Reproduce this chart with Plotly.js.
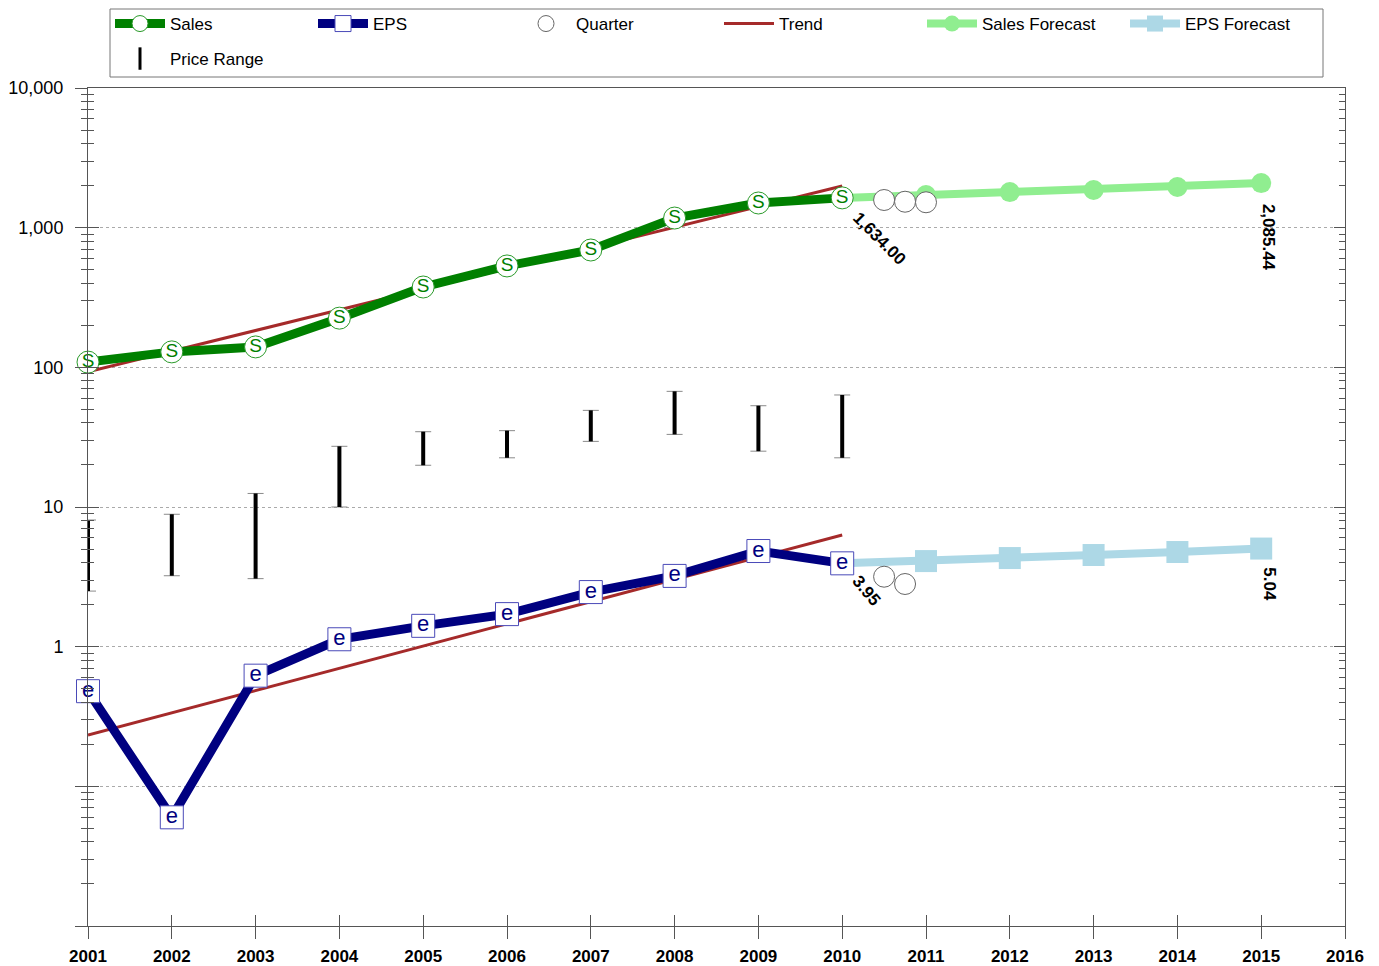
<!DOCTYPE html>
<html><head><meta charset="utf-8">
<script src="https://cdn.plot.ly/plotly-3.0.1.min.js"></script>
<style>html,body{margin:0;padding:0;background:#fff;} #chart{width:1379px;height:966px;}</style>
</head><body><div id="chart"></div>
<script>
// ---------- data ----------
const years = [2001, 2002, 2003, 2004, 2005, 2006, 2007, 2008, 2009, 2010];
const sales = [109, 129, 140, 225, 376, 532, 692, 1172, 1502, 1634.00];
const eps = [0.48, 0.060, 0.62, 1.13, 1.41, 1.71, 2.46, 3.21, 4.84, 3.95];
const forecastYears = [2010, 2011, 2012, 2013, 2014, 2015];
const salesForecast = [1634.00, 1714, 1798, 1862, 1955, 2085.44];
const epsForecast = [3.95, 4.10, 4.31, 4.53, 4.76, 5.04];
const quarterSalesX = [2010.5, 2010.75, 2011];
const quarterSales = [1578, 1534, 1520];
const quarterEpsX = [2010.5, 2010.75];
const quarterEps = [3.17, 2.81];
const trendYears = [2001, 2010];
const trendSales = [93, 1990];
const trendEps = [0.233, 6.31];
const priceLow = [2.50, 3.22, 3.07, 10.0, 19.9, 22.5, 29.5, 33.1, 25.1, 22.5];
const priceHigh = [8.07, 8.87, 12.5, 27.2, 34.6, 35.2, 49.2, 67.3, 53.1, 63.4];
const xTickVals = [2001, 2002, 2003, 2004, 2005, 2006, 2007, 2008, 2009, 2010, 2011, 2012, 2013, 2014, 2015, 2016];
const yTickVals = [0.01, 0.1, 1, 10, 100, 1000, 10000];
const yTickText = ['', '', '1', '10', '100', '1,000', '10,000'];

// ---------- geometry helpers ----------
const W = 1379, H = 966, ML = 88, MR = 34, MT = 88, MB = 40;
const PW = W - ML - MR, PH = H - MT - MB;
const px2x = p => (p - ML) / PW;
const py2y = p => (H - MB - p) / PH;
const FONT = 'Liberation Sans, Arial, sans-serif';

const minorVals = [];
for (let d = -2; d <= 3; d++) for (let k = 2; k <= 9; k++) minorVals.push(k * Math.pow(10, d));

// price range segments
const prX = [], prY = [];
years.forEach((yr, i) => { prX.push(yr, yr, null); prY.push(priceLow[i], priceHigh[i], null); });

const fmt = v => v.toLocaleString('en-US', {minimumFractionDigits: 2, maximumFractionDigits: 2});

const traces = [
  { // caps
    x: years, y: priceLow, type: 'scatter', mode: 'markers',
    marker: {size: 1, opacity: 0},
    error_y: {type: 'data', symmetric: false,
      array: priceHigh.map((h, i) => h - priceLow[i]), arrayminus: priceLow.map(() => 0),
      color: '#8a8a8a', thickness: 1, width: 8},
    showlegend: false, hoverinfo: 'skip'
  },
  {
    x: prX, y: prY, type: 'scatter', mode: 'lines',
    line: {color: '#000', width: 4}, showlegend: false, hoverinfo: 'skip'
  },
  {
    x: [null], y: [null], type: 'scatter', mode: 'markers', name: 'Price Range',
    legend: 'legend2',
    marker: {symbol: 'line-ns-open', size: 16, color: '#000', line: {color: '#000', width: 3}}
  },
  {
    x: trendYears, y: trendSales, type: 'scatter', mode: 'lines', name: 'Trend',
    legendgroup: 'trend', legendrank: 4, line: {color: '#A52A2A', width: 3}
  },
  {
    x: trendYears, y: trendEps, type: 'scatter', mode: 'lines', name: 'Trend',
    legendgroup: 'trend', showlegend: false, line: {color: '#A52A2A', width: 3}
  },
  {
    x: forecastYears, y: salesForecast, type: 'scatter', mode: 'lines+markers', name: 'Sales Forecast',
    legendrank: 5, line: {color: '#90EE90', width: 8},
    marker: {symbol: 'circle', size: 20, color: '#90EE90'}
  },
  {
    x: forecastYears, y: epsForecast, type: 'scatter', mode: 'lines+markers', name: 'EPS Forecast',
    legendrank: 6, line: {color: '#ADD8E6', width: 8},
    marker: {symbol: 'square', size: 22, color: '#ADD8E6'}
  },
  {
    x: years, y: sales, type: 'scatter', mode: 'lines+markers', name: 'Sales', legendrank: 1,
    cliponaxis: false,
    line: {color: '#008000', width: 9},
    marker: {symbol: 'circle', size: 22, color: '#fff', line: {color: '#2a9a2a', width: 1}}
  },
  {
    x: years, y: sales, type: 'scatter', mode: 'text', text: years.map(() => 'S'),
    textposition: 'middle center', cliponaxis: false,
    textfont: {family: FONT, size: 19, color: '#008000'}, showlegend: false, hoverinfo: 'skip'
  },
  {
    x: years, y: eps, type: 'scatter', mode: 'lines+markers', name: 'EPS', legendrank: 2,
    cliponaxis: false,
    line: {color: '#000080', width: 9},
    marker: {symbol: 'square', size: 23, color: '#fff', line: {color: '#4a4ab8', width: 1}}
  },
  {
    x: years, y: eps, type: 'scatter', mode: 'text', text: years.map(() => 'e'),
    textposition: 'middle center', cliponaxis: false,
    textfont: {family: FONT, size: 22, color: '#000080'}, showlegend: false, hoverinfo: 'skip'
  },
  {
    x: quarterSalesX, y: quarterSales, type: 'scatter', mode: 'markers', name: 'Quarter',
    legendgroup: 'q', legendrank: 3,
    marker: {symbol: 'circle', size: 21, color: '#fff', line: {color: '#666', width: 1}}
  },
  {
    x: quarterEpsX, y: quarterEps, type: 'scatter', mode: 'markers', name: 'Quarter',
    legendgroup: 'q', showlegend: false,
    marker: {symbol: 'circle', size: 21, color: '#fff', line: {color: '#666', width: 1}}
  },
  { // dummy for overlay axes (crossing ticks)
    x: [null], y: [null], xaxis: 'x2', yaxis: 'y2', type: 'scatter', mode: 'markers',
    showlegend: false, hoverinfo: 'skip'
  }
];

const lastS = sales.length - 1, lastF = forecastYears.length - 1;
const annotations = [
  {x: years[lastS], y: Math.log10(sales[lastS]), text: '<b>' + fmt(sales[lastS]) + '</b>',
   textangle: 45, xshift: 37, yshift: -41},
  {x: years[lastS], y: Math.log10(eps[lastS]), text: '<b>' + fmt(eps[lastS]) + '</b>',
   textangle: 50, xshift: 24, yshift: -27},
  {x: forecastYears[lastF], y: Math.log10(salesForecast[lastF]), text: '<b>' + fmt(salesForecast[lastF]) + '</b>',
   textangle: 90, xshift: 8, yshift: -54},
  {x: forecastYears[lastF], y: Math.log10(epsForecast[lastF]), text: '<b>' + fmt(epsForecast[lastF]) + '</b>',
   textangle: 90, xshift: 8, yshift: -36}
].map(a => Object.assign({xref: 'x', yref: 'y', showarrow: false, xanchor: 'center', yanchor: 'middle',
  font: {family: FONT, size: 17, color: '#000'}}, a));

const axisCol = '#555';
const layout = {
  width: W, height: H,
  margin: {l: ML, r: MR, t: MT, b: MB, pad: 0, autoexpand: false},
  paper_bgcolor: '#fff', plot_bgcolor: '#fff',
  font: {family: FONT, color: '#000'},
  showlegend: true,
  xaxis: {
    type: 'linear', range: [2001, 2016], tickmode: 'array', tickvals: xTickVals,
    ticks: 'outside', ticklen: 12, tickcolor: axisCol, tickwidth: 1, ticklabelstandoff: 3,
    showline: true, linecolor: axisCol, linewidth: 1, mirror: true,
    showgrid: false, zeroline: false,
    tickfont: {family: FONT, size: 17, color: '#000', weight: 'bold'}
  },
  yaxis: {
    type: 'log', range: [-2, 4], tickmode: 'array', tickvals: yTickVals, ticktext: yTickText,
    ticks: 'outside', ticklen: 12, tickcolor: axisCol, tickwidth: 1, ticklabelstandoff: 8,
    minor: {tickmode: 'array', tickvals: minorVals, ticks: 'outside', ticklen: 6, tickcolor: axisCol, showgrid: false},
    showline: true, linecolor: axisCol, linewidth: 1, mirror: true,
    showgrid: true, gridcolor: '#aaa', griddash: 'dot', gridwidth: 1, zeroline: false,
    tickfont: {family: FONT, size: 18, color: '#000'}
  },
  xaxis2: {
    overlaying: 'x', anchor: 'y2', side: 'bottom', type: 'linear', range: [2001, 2016],
    tickmode: 'array', tickvals: xTickVals, ticks: 'inside', ticklen: 11, tickcolor: axisCol,
    showticklabels: false, showline: false, showgrid: false, zeroline: false
  },
  yaxis2: {
    overlaying: 'y', anchor: 'x2', side: 'left', type: 'log', range: [-2, 4],
    tickmode: 'array', tickvals: yTickVals, ticks: 'inside', ticklen: 11, tickcolor: axisCol,
    minor: {tickmode: 'array', tickvals: minorVals, ticks: 'inside', ticklen: 6, tickcolor: axisCol, showgrid: false},
    mirror: 'ticks', showticklabels: false, showline: false, showgrid: false, zeroline: false
  },
  legend: {
    orientation: 'h', x: px2x(110), y: py2y(6), xanchor: 'left', yanchor: 'top',
    bgcolor: 'rgba(0,0,0,0)', borderwidth: 0, itemwidth: 50,
    entrywidth: 138, entrywidthmode: 'pixels', traceorder: 'normal',
    font: {family: FONT, size: 17, color: '#000'}
  },
  legend2: {
    orientation: 'h', x: px2x(110), y: py2y(41), xanchor: 'left', yanchor: 'top',
    bgcolor: 'rgba(0,0,0,0)', borderwidth: 0, itemwidth: 50,
    font: {family: FONT, size: 17, color: '#000'}
  },
  shapes: [{
    type: 'rect', xref: 'paper', yref: 'paper',
    x0: px2x(110), x1: px2x(1323), y0: py2y(77), y1: py2y(9),
    line: {color: '#777', width: 1}, fillcolor: 'rgba(0,0,0,0)', layer: 'above'
  }],
  annotations: annotations
};

Plotly.newPlot('chart', traces, layout, {displayModeBar: false, staticPlot: true});
</script>
</body></html>
